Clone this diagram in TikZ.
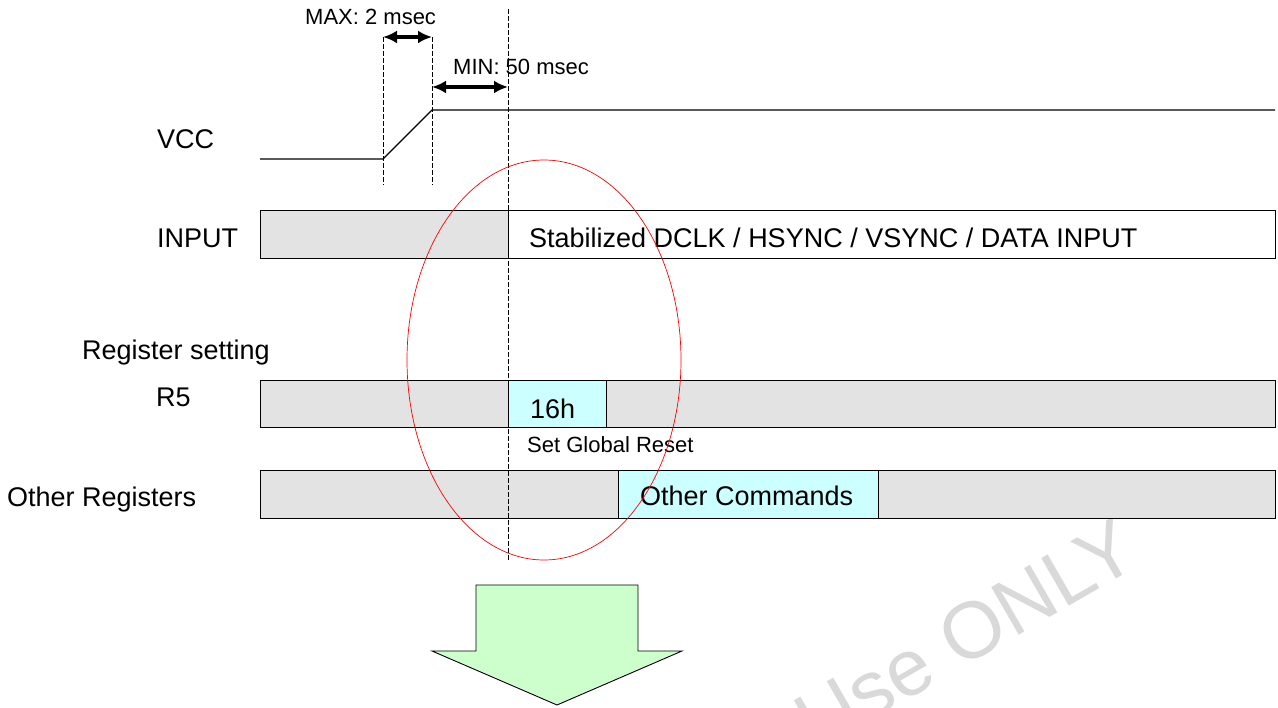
\documentclass[tikz,border=0pt]{standalone}
\usepackage{fontspec}
\setmainfont{Liberation Sans}
\usetikzlibrary{arrows.meta}
\definecolor{rowgray}{RGB}{227,227,227}
\definecolor{cmdcyan}{RGB}{204,255,255}
\definecolor{arrowgreen}{RGB}{204,255,204}
\definecolor{markgray}{RGB}{217,217,217}
\tikzset{
	rowbox/.style={draw=black, line width=0.9pt, fill=rowgray},
	cmdbox/.style={draw=black, line width=0.9pt, fill=cmdcyan},
	guideline/.style={line width=0.6pt, dash pattern=on 5pt off 2pt},
	spanarrow/.style={line width=3.4pt, {Latex[length=14pt,width=13pt]}-{Latex[length=14pt,width=13pt]}},
	biglabel/.style={font=\fontsize{27}{30}\selectfont, inner sep=0pt},
	smalllabel/.style={font=\fontsize{22}{25}\selectfont, inner sep=0pt},
}

\begin{document}
\begin{tikzpicture}[x=1pt, y=-1pt]
	%%%%% START %%%%%
	
	\useasboundingbox (0,0) rectangle (1278,708);
	\clip (0,0) rectangle (1278,708);
	
	% watermark
	\node[rotate=30, text=markgray, font=\fontsize{80}{90}\selectfont] (mark) at (966,634) {Use ONLY};
	
	% time marks
	\coordinate (riseTop) at (383,37);
	\coordinate (riseBot) at (383,185);
	\coordinate (highTop) at (432,37);
	\coordinate (highBot) at (432,185);
	\coordinate (minLeft) at (432,87);
	\coordinate (resetTop) at (508,9);
	\coordinate (resetBot) at (508,560);
	\coordinate (minRight) at (508,87);
	
	% VCC
	\node[biglabel, anchor=base west] (vcc) at (157,149) {VCC};
	\draw[line width=1.2pt] (260,159) -- (383,159) -- (432,110) -- (1275,110);
	
	% INPUT
	\node[biglabel, anchor=base west] (input) at (157,248) {INPUT};
	\draw[line width=0.9pt, fill=white] (260,210) rectangle (1275,258);
	\draw[rowbox] (260,210) rectangle (508,258);
	\node[biglabel, anchor=base west] (stable) at (529,248) {Stabilized DCLK / HSYNC / VSYNC / DATA INPUT};
	
	% registers
	\node[biglabel, anchor=base west] (regset) at (82,360) {Register setting};
	\node[biglabel, anchor=base west] (rfive) at (156,407) {R5};
	\draw[rowbox] (260,380) rectangle (1275,427);
	\draw[cmdbox] (508,380) rectangle (606,427);
	\node[biglabel, anchor=base west] (hex) at (530,419) {16h};
	\node[smalllabel, anchor=base west] (greset) at (527,453) {Set Global Reset};
	
	\node[biglabel, anchor=base west] (others) at (7,507) {Other Registers};
	\draw[rowbox] (260,470) rectangle (1275,518);
	\draw[cmdbox] (618,470) rectangle (878,518);
	\node[biglabel, anchor=base west] (cmds) at (640,506) {Other Commands};
	
	% guide lines and spans
	\draw[guideline] (riseTop) -- (riseBot);
	\draw[guideline] (highTop) -- (highBot);
	\draw[guideline] (resetTop) -- (resetBot);
	\draw[spanarrow] (riseTop) -- (highTop);
	\draw[spanarrow] (minLeft) -- (minRight);
	\node[smalllabel, anchor=base west] (maxtxt) at (305,25) {MAX: 2 msec};
	\node[smalllabel, anchor=base west] (mintxt) at (453,75) {MIN: 50 msec};
	
	% marked area
	\draw[red, line width=0.7pt] (544,360) ellipse [x radius=137, y radius=200];
	
	% down arrow
	\draw[line width=0.9pt, fill=arrowgreen] (476,585) -- (638,585) -- (638,651) -- (682,651) -- (557,705) -- (432,651) -- (476,651) -- cycle;
	
	%%%%% END %%%%%
\end{tikzpicture}
\end{document}
